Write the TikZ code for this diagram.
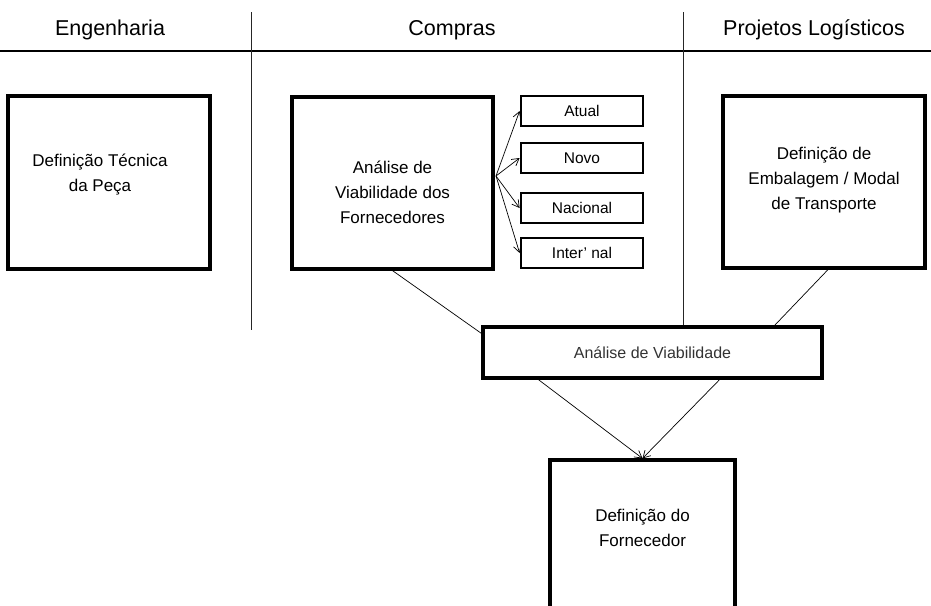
\documentclass[tikz,border=0pt]{standalone}
\usepackage{fontspec}
\setmainfont{Liberation Sans}
\usetikzlibrary{arrows.meta,calc}
\begin{document}
\begin{tikzpicture}[x=1pt,y=-1pt,
  box/.style={draw, line width=3.2pt, fill=white, inner sep=0pt},
  optbox/.style={draw, line width=2.8pt, fill=white, inner sep=0pt,
    minimum width=122pt, minimum height=30pt, font=\fontsize{15.5}{17}\selectfont},
  boxtext/.style={font=\fontsize{17}{25}\selectfont, align=center},
  head/.style={font=\fontsize{21.5}{25}\selectfont},
  sepline/.style={line width=0.8pt, black!85},
  link/.style={line width=0.7pt},
  arr/.style={link, -{Straight Barb[length=7pt,width=8pt]}}]
\useasboundingbox (0,0) rectangle (931,605);
\clip (0,0) rectangle (931,605);

% column headings and separators
\node[head] (hEng) at (110,30) {Engenharia};
\node[head] (hCom) at (452,30) {Compras};
\node[head] (hLog) at (814,30) {Projetos Logísticos};
\coordinate (hl) at (0,51);
\coordinate (hr) at (931,51);
\draw[line width=1.3pt] (hl) -- (hr);

% boxes
\node[box, minimum width=202pt, minimum height=173pt] (eng) at (109,182.5) {};
\node[boxtext] (engT) at (100,175) {Definição Técnica\\da Peça};

\node[box, minimum width=201pt, minimum height=172pt] (com) at (392.5,183) {};
\node[boxtext] (comT) at (392.5,192) {Análise de\\Viabilidade dos\\Fornecedores};

\node[optbox] (atual) at (582,111) {Atual};
\node[optbox] (novo) at (582,158) {Novo};
\node[optbox] (nac) at (582,208) {Nacional};
\node[optbox] (intl) at (582,253) {Inter' nal};

\node[box, minimum width=202pt, minimum height=172pt] (log) at (824,182) {};
\node[boxtext] (logT) at (824,180) {Definição de\\Embalagem / Modal\\de Transporte};

\node[box, minimum width=339pt, minimum height=51pt] (av) at (652.5,352.5)
  {\fontsize{16}{18}\selectfont\color{black!80}Análise de Viabilidade};

\node[box, minimum width=185pt, minimum height=165pt] (forn) at (642.5,542.5) {};
\node[boxtext] (fornT) at (642.5,528) {Definição do\\Fornecedor};

% separators between columns
\coordinate (s1t) at (251,12);
\coordinate (s1b) at (251,330);
\coordinate (s2t) at (683,12);
\draw[sepline] (s1t) -- (s1b);
\draw[sepline] (s2t) -- (s2t |- av.north);

% options fan
\coordinate (fan) at (496,176);
\foreach \t in {atual,novo,nac,intl}
  \draw[arr] (fan) -- (\t.west);

% links into the feasibility box
\draw[link] (com.south) -- ($(av.north west)+(0,8)$);
\draw[link] ($(log.south)+(4,0)$) -- ($(av.north east)+(-49,0)$);

% arrows to the supplier decision
\draw[arr] ($(av.south west)+(57,0)$) -- (forn.north);
\draw[arr] ($(av.south east)+(-104,0)$) -- (forn.north);
\end{tikzpicture}
\end{document}
